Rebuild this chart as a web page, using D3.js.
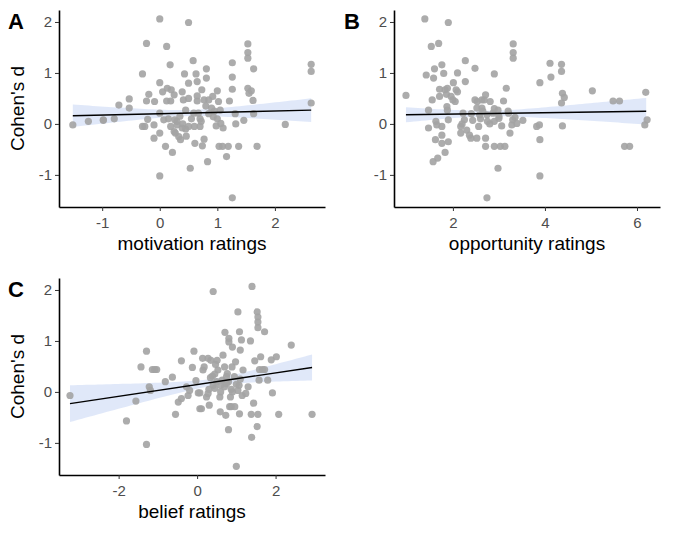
<!DOCTYPE html>
<html><head><meta charset="utf-8">
<script src="https://cdn.jsdelivr.net/npm/d3@7"></script>
<style>body{margin:0;background:#fff;}svg{font-family:Arial,"Liberation Sans",sans-serif;}</style>
</head><body><svg id="c" width="680" height="536"></svg>
<script>
// Panel A: motivation ratings vs Cohen's d
const motivationX = [-1.51,-1.24,-0.98,-0.98,-0.79,-0.71,-0.53,-0.53,-0.30,-0.23,-0.30,-0.26,-0.23,-0.19,-0.21,-0.09,-0.10,-0.10,0.00,0.00,0.00,0.00,0.00,0.05,0.07,0.10,0.12,0.12,0.13,0.18,0.19,0.19,0.20,0.22,0.25,0.26,0.27,0.30,0.33,0.36,0.39,0.39,0.41,0.43,0.45,0.46,0.50,0.50,0.50,0.53,0.58,0.59,0.61,0.63,0.65,0.65,0.67,0.70,0.72,0.73,0.74,0.77,0.77,0.81,0.81,0.83,0.85,0.90,0.92,0.93,0.98,1.00,1.02,1.03,1.05,1.06,1.09,1.10,1.16,1.19,1.21,1.26,1.26,1.26,1.26,1.31,1.32,1.37,1.46,1.53,1.53,1.53,1.53,1.55,1.59,1.62,1.63,1.63,1.69,2.18,2.63,2.63,2.63,0.30,0.40,0.55,0.60,0.70,0.85,0.95,0.35,0.45,0.15,0.25,0.80,0.65,1.00,0.50];
const motivationD = [-0.02,0.05,0.08,0.07,0.10,0.37,0.49,0.31,0.98,1.58,-0.05,-0.05,0.45,0.58,0.09,0.44,-0.02,-0.28,2.06,0.81,-1.02,-0.18,0.21,0.63,0.08,-0.44,1.52,0.45,0.70,1.16,0.45,-0.05,0.67,-0.56,0.57,0.08,-0.18,-0.02,-0.25,-0.31,0.63,-0.08,0.47,0.98,0.27,-0.24,1.99,0.80,0.50,-0.87,1.24,0.21,-0.38,0.98,0.83,0.45,0.21,-0.05,0.05,0.67,-0.43,0.47,-0.30,1.08,0.90,-0.74,0.47,0.31,0.54,0.14,-0.04,0.65,0.44,-0.44,0.27,0.01,-0.44,-0.08,-0.64,-0.44,0.45,1.20,0.92,0.68,-1.45,0.20,0.00,-0.44,0.07,1.57,1.40,1.29,0.70,0.60,0.65,0.46,1.08,0.20,-0.44,-0.01,1.17,1.03,0.41,0.05,0.00,0.10,-0.05,0.10,0.20,0.25,0.15,-0.10,0.10,-0.15,0.35,0.55,0.10,-0.05];
// Panel B: opportunity ratings vs Cohen's d
const opportunityX = [0.98,1.39,1.42,1.47,1.47,1.53,1.55,1.57,1.58,1.60,1.62,1.63,1.65,1.67,1.69,1.71,1.71,1.76,1.76,1.76,1.76,1.80,1.83,1.86,1.83,1.88,1.90,1.88,1.87,1.90,1.90,1.96,2.00,2.01,2.05,2.10,2.07,2.10,2.17,2.17,2.27,2.27,2.22,2.25,2.30,2.36,2.39,2.43,2.48,2.48,2.53,2.52,2.52,2.58,2.56,2.63,2.63,2.68,2.71,2.71,2.71,2.74,2.74,2.75,2.81,2.87,2.90,2.90,2.90,2.98,2.98,3.00,3.03,3.13,3.06,3.10,3.16,3.21,3.24,3.28,3.30,3.31,3.31,3.31,3.35,3.39,3.52,3.82,3.88,3.89,3.89,3.89,4.11,4.13,4.36,4.36,4.38,4.42,4.36,4.38,5.03,5.48,5.62,5.73,5.84,6.19,6.17,6.22,2.40,2.60,2.80,3.00,2.90,2.65,2.20,3.20];
const opportunityD = [0.56,2.06,0.96,0.27,-0.08,1.52,0.47,-0.74,0.90,1.08,-0.31,0.05,-0.02,-0.67,1.58,0.68,0.54,-0.22,1.16,-0.05,-0.38,0.99,0.67,0.58,-0.56,0.70,1.99,0.27,0.34,-0.35,0.08,0.54,0.47,0.81,0.44,1.00,0.67,0.63,-0.05,-0.18,1.24,0.83,0.21,0.08,-0.12,-0.22,-0.28,0.07,1.09,0.47,0.44,-0.28,0.31,0.18,-0.05,0.47,0.31,0.47,0.57,-0.28,-0.44,-1.45,0.18,0.05,0.44,0.21,0.05,-0.44,0.98,-0.87,0.27,0.11,-0.44,-0.44,-0.04,0.45,0.70,0.21,-0.18,-0.02,0.08,1.57,1.40,1.29,0.13,0.01,0.07,-0.05,-0.02,0.81,-0.31,-1.02,1.19,0.92,1.17,1.03,0.60,0.52,0.41,-0.04,0.65,0.45,0.45,-0.44,-0.44,0.62,-0.02,0.08,0.20,0.10,0.00,0.15,0.30,0.25,0.00,0.25];
// Panel C: belief ratings vs Cohen's d
const beliefX = [-3.24,-1.80,-1.56,-1.43,-1.29,-1.29,-1.22,-1.19,-1.14,-1.08,-1.03,-0.81,-0.63,-0.55,-0.48,-0.40,-0.40,-0.27,-0.23,-0.19,-0.12,-0.08,-0.03,0.03,0.07,0.07,0.11,0.14,0.15,0.18,0.24,0.28,0.28,0.35,0.31,0.34,0.39,0.41,0.41,0.45,0.47,0.51,0.53,0.58,0.59,0.60,0.64,0.66,0.70,0.71,0.73,0.75,0.77,0.80,0.81,0.81,0.83,0.87,0.87,0.89,0.90,0.96,0.98,1.00,1.04,1.04,1.07,1.08,1.08,1.10,1.13,1.15,1.17,1.24,1.30,1.36,1.38,1.39,1.40,1.44,1.47,1.53,1.55,1.55,1.55,1.55,1.53,1.58,1.59,1.62,1.67,1.72,1.72,1.80,1.89,2.02,1.92,2.08,2.40,2.93,0.50,0.60,0.70,0.80,0.90,1.00,0.75,0.85,1.10,0.30,0.45,0.95];
const beliefD = [-0.07,-0.57,-0.18,0.49,0.80,-1.03,0.10,0.03,0.44,0.44,0.44,0.20,0.29,-0.44,-0.20,-0.13,0.61,0.10,-0.07,0.03,0.48,0.80,0.22,-0.02,-0.02,-0.33,-0.33,0.66,0.43,0.49,-0.10,-0.03,0.66,0.62,-0.26,0.28,0.31,1.97,0.13,0.07,0.54,0.62,0.43,-0.10,-0.39,0.13,0.23,0.72,0.49,1.17,-0.46,0.16,0.36,-0.74,1.05,0.98,-0.29,-0.29,0.05,0.49,0.88,-0.29,0.59,-1.46,1.57,0.03,0.13,-0.43,1.18,0.82,1.02,-0.07,0.43,-0.03,0.10,1.00,-0.44,-0.89,2.07,-0.22,0.61,1.57,1.47,1.37,1.26,-0.44,-0.68,0.23,0.44,0.69,0.44,0.44,1.18,0.23,0.63,0.69,-0.02,-0.44,0.92,-0.44,0.20,0.00,0.10,0.20,0.00,0.15,0.30,-0.10,0.25,0.05,0.35,0.30];
// Fit lines: [xStart, yStart, xEnd, yEnd], CI: [centre x, min half-width, spread]
const fitA = [-1.51,0.16,2.63,0.27], ciA = [0.5,0.06,0.105];
const fitB = [0.98,0.18,6.20,0.25], ciB = [2.8,0.055,0.075];
const fitC = [-3.24,-0.23,2.93,0.48], ciC = [0.4,0.07,0.097];
const yTicks = [-1,0,1,2];
const ticksA = [-1,0,1,2], ticksB = [2,4,6], ticksC = [-2,0,2];

const svg = d3.select("#c");
const fmt = d => String(d);
function panel(o){
  const x = d3.scaleLinear().domain(o.xd).range([o.l,o.r]);
  const y = d3.scaleLinear().domain([-1.63,2.235]).range([o.b,o.t]);
  const g = svg.append("g");
  const f=o.fit, c=o.ci, sl=(f[3]-f[1])/(f[2]-f[0]);
  const xs = d3.range(0,61).map(i=>f[0]+(f[2]-f[0])*i/60);
  const pred=v=>f[1]+sl*(v-f[0]), hw=v=>Math.sqrt(c[1]*c[1]+c[2]*c[2]*(v-c[0])*(v-c[0]));
  g.append("path").datum(xs).attr("fill","#dbe4f8").attr("opacity",0.85)
    .attr("d",d3.area().x(v=>x(v)).y0(v=>y(pred(v)-hw(v))).y1(v=>y(pred(v)+hw(v))));
  g.selectAll("circle").data(o.xv.map((v,i)=>[v,o.yv[i]])).join("circle")
    .attr("cx",d=>x(d[0])).attr("cy",d=>y(d[1])).attr("r",3.6).attr("fill","#a3a3a3").attr("opacity",0.9);
  g.append("line").attr("x1",x(f[0])).attr("y1",y(f[1])).attr("x2",x(f[2])).attr("y2",y(f[3]))
    .attr("stroke","#000").attr("stroke-width",1.4);
  const ax = g.append("g").attr("transform",`translate(0,${o.b})`).call(d3.axisBottom(x).tickValues(o.xt).tickSize(4).tickSizeOuter(0).tickFormat(fmt));
  const ay = g.append("g").attr("transform",`translate(${o.l},0)`).call(d3.axisLeft(y).tickValues(yTicks).tickSize(4).tickSizeOuter(0).tickFormat(fmt));
  [ax,ay].forEach(a=>{a.select(".domain").attr("stroke","#000").attr("stroke-width",1.6);
    a.selectAll(".tick line").attr("stroke","#333");
    a.selectAll("text").attr("font-size",15).attr("fill","#4d4d4d").attr("font-family","Arial,'Liberation Sans',sans-serif");});
  ax.selectAll("text").attr("dy","0.9em");
  g.append("text").attr("x",(o.l+o.r)/2).attr("y",o.b+43).attr("text-anchor","middle").attr("font-size",19).text(o.xl);
  if(o.yl) g.append("text").attr("transform",`translate(24,${(o.t+o.b)/2}) rotate(-90)`).attr("text-anchor","middle").attr("font-size",19).text("Cohen's d");
  g.append("text").attr("x",o.lx).attr("y",o.t+19).attr("font-size",22).attr("font-weight","bold").text(o.tag);
}
panel({tag:"A",lx:8,l:59,r:325,t:10,b:207,xd:[-1.75,2.87],xv:motivationX,yv:motivationD,fit:fitA,ci:ciA,xt:ticksA,xl:"motivation ratings",yl:true});
panel({tag:"B",lx:344,l:394,r:660,t:10,b:207,xd:[0.72,6.5],xv:opportunityX,yv:opportunityD,fit:fitB,ci:ciB,xt:ticksB,xl:"opportunity ratings",yl:false});
panel({tag:"C",lx:8,l:59,r:325,t:278,b:475,xd:[-3.52,3.26],xv:beliefX,yv:beliefD,fit:fitC,ci:ciC,xt:ticksC,xl:"belief ratings",yl:true});
</script></body></html>
